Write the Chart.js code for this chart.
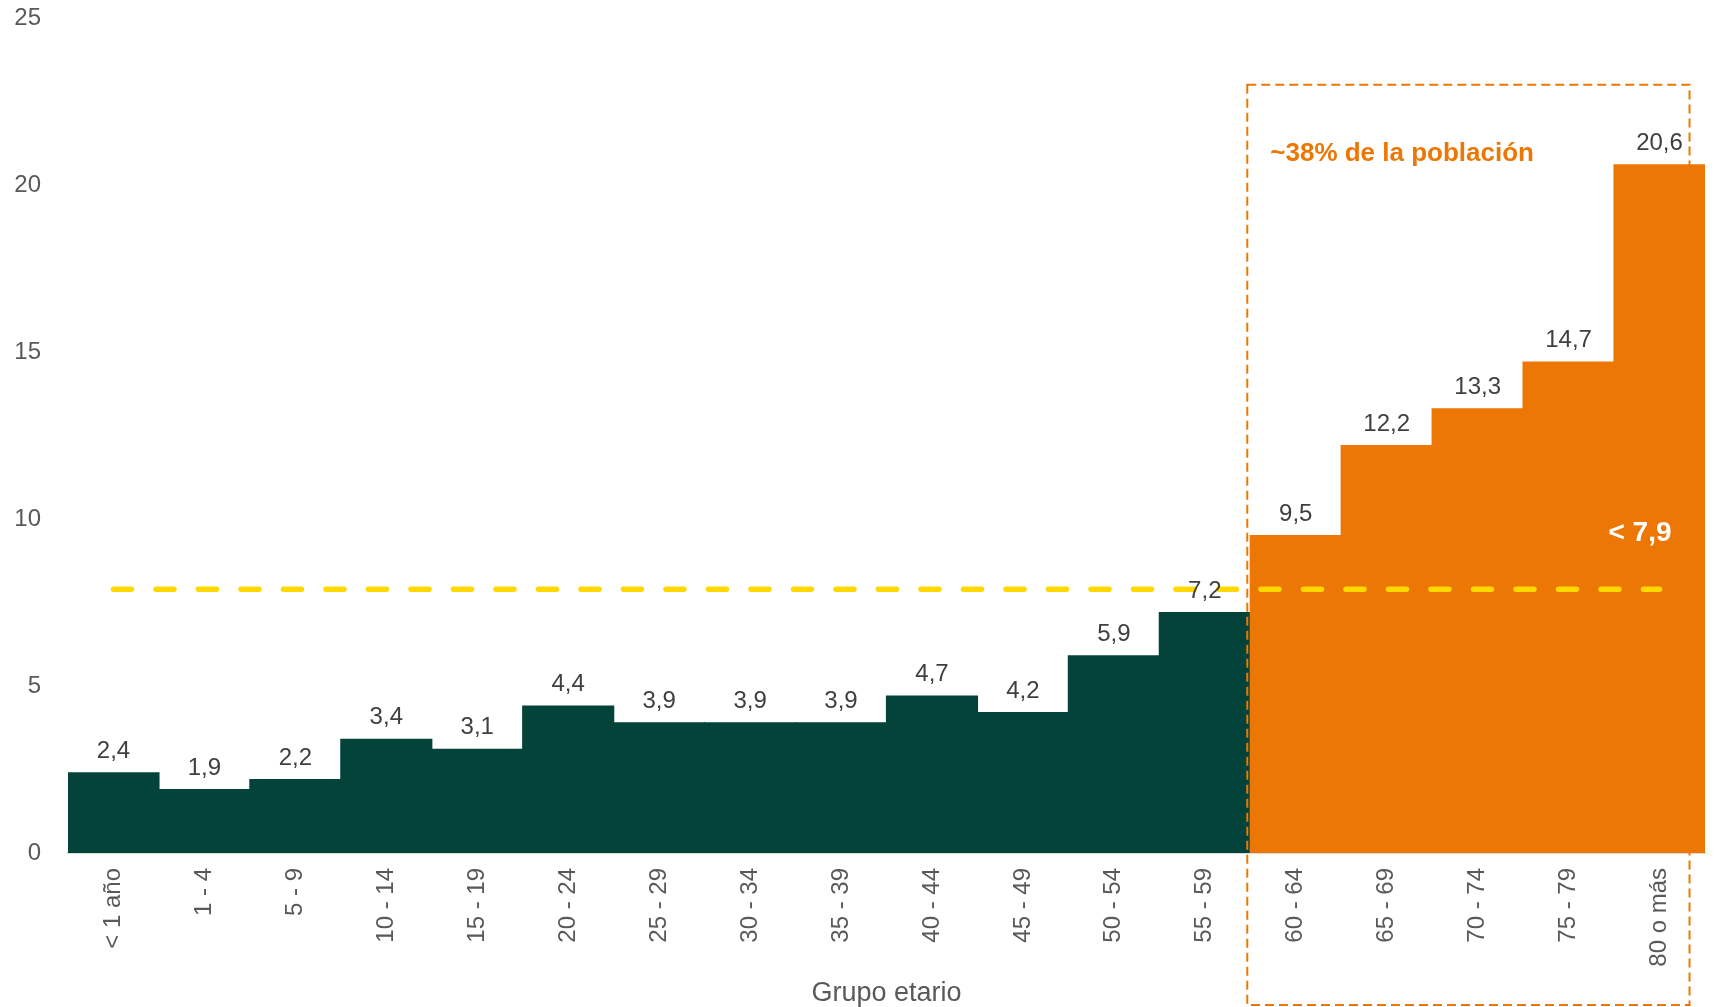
<!DOCTYPE html>
<html lang="es">
<head>
<meta charset="utf-8">
<title>Tasa por grupo etario</title>
<script src="https://cdn.jsdelivr.net/npm/chart.js@4"></script>
<style>
  html, body { margin: 0; padding: 0; background: #fff; }
  #wrap { width: 1719px; height: 1007px; }
</style>
</head>
<body>
<div id="wrap"><canvas id="grupoChart"></canvas></div>
<script>
// grupos de edad y valores por grupo
const grupos = ["< 1 año", "1 - 4", "5 - 9", "10 - 14", "15 - 19", "20 - 24", "25 - 29", "30 - 34",
  "35 - 39", "40 - 44", "45 - 49", "50 - 54", "55 - 59", "60 - 64", "65 - 69", "70 - 74", "75 - 79", "80 o más"];
const valores = [2.4, 1.9, 2.2, 3.4, 3.1, 4.4, 3.9, 3.9, 3.9, 4.7, 4.2, 5.9, 7.2, 9.5, 12.2, 13.3, 14.7, 20.6];
const promedio = 7.9;
const inicioMayores = 13; // desde "60 - 64"
const yTicks = [0, 5, 10, 15, 20, 25];

const VERDE = '#03433a';
const NARANJA = '#ec7704';
const AMARILLO = '#ffd800';
const GRIS = '#595959';
const FUENTE = '"Liberation Sans", Arial, sans-serif';

const fmt = v => v.toFixed(1).replace('.', ',');

// etiquetas de valor encima de cada barra + recuadro y textos
const anotaciones = {
  id: 'anotaciones',
  afterDatasetsDraw(chart) {
    const ctx = chart.ctx;
    const x = chart.scales.x, y = chart.scales.y;
    const barras = chart.getDatasetMeta(0).data;

    ctx.save();
    ctx.font = '24px ' + FUENTE;
    ctx.fillStyle = '#404040';
    ctx.textAlign = 'center';
    ctx.textBaseline = 'alphabetic';
    barras.forEach((b, i) => {
      ctx.fillText(fmt(valores[i]), b.x, b.y - 15);
    });

    // recuadro del grupo 60+
    const paso = x.getPixelForValue(1) - x.getPixelForValue(0);
    const izq = x.getPixelForValue(inicioMayores) - paso / 2 - 3;
    const der = x.getPixelForValue(grupos.length - 1) + 30;
    const arriba = y.getPixelForValue(23);
    const abajo = chart.height - 2;
    ctx.strokeStyle = NARANJA;
    ctx.lineWidth = 2;
    ctx.setLineDash([9, 5]);
    ctx.strokeRect(izq, arriba, der - izq, abajo - arriba);
    ctx.setLineDash([]);

    ctx.font = 'bold 26px ' + FUENTE;
    ctx.fillStyle = NARANJA;
    ctx.textAlign = 'left';
    ctx.textBaseline = 'middle';
    ctx.fillText('~38% de la población', izq + 23, arriba + 69);

    ctx.font = 'bold 28px ' + FUENTE;
    ctx.fillStyle = '#ffffff';
    ctx.textAlign = 'right';
    ctx.fillText('< ' + fmt(promedio), x.getPixelForValue(grupos.length - 1) + 12, y.getPixelForValue(promedio) - 56);
    ctx.restore();
  }
};

new Chart(document.getElementById('grupoChart'), {
  data: {
    labels: grupos,
    datasets: [
      {
        type: 'bar',
        data: valores,
        backgroundColor: valores.map((v, i) => i < inicioMayores ? VERDE : NARANJA),
        borderWidth: 0,
        inflateAmount: 0.6,
        barPercentage: 1,
        categoryPercentage: 1,
        order: 2
      },
      {
        type: 'line',
        data: grupos.map(() => promedio),
        borderColor: AMARILLO,
        borderWidth: 5.5,
        borderDash: [18, 24.5],
        borderCapStyle: 'round',
        pointRadius: 0,
        fill: false,
        order: 1
      }
    ]
  },
  options: {
    responsive: true,
    maintainAspectRatio: false,
    animation: false,
    layout: { padding: { left: 0, right: 14, top: 18, bottom: 0 } },
    plugins: {
      legend: { display: false },
      tooltip: { enabled: false }
    },
    scales: {
      x: {
        grid: { display: false, drawTicks: false },
        border: { display: true, color: '#d9d9d9', width: 2 },
        ticks: {
          autoSkip: false,
          minRotation: 90,
          maxRotation: 90,
          padding: 15,
          color: GRIS,
          font: { family: FUENTE, size: 24 }
        },
        title: {
          display: true,
          text: 'Grupo etario',
          color: GRIS,
          font: { family: FUENTE, size: 27, lineHeight: 1 },
          padding: { top: 0, bottom: 0 }
        },
        afterFit(a) { a.height = 154; }
      },
      y: {
        min: 0,
        max: 25,
        afterBuildTicks(a) { a.ticks = yTicks.map(v => ({ value: v })); },
        grid: { display: false, drawTicks: false },
        border: { display: false },
        ticks: {
          padding: 27,
          color: GRIS,
          font: { family: FUENTE, size: 24 }
        },
        afterFit(a) {
          a.width = 68;
          a.paddingTop = 0;
          a.paddingBottom = 0;
        }
      }
    }
  },
  plugins: [anotaciones]
});
</script>
</body>
</html>
